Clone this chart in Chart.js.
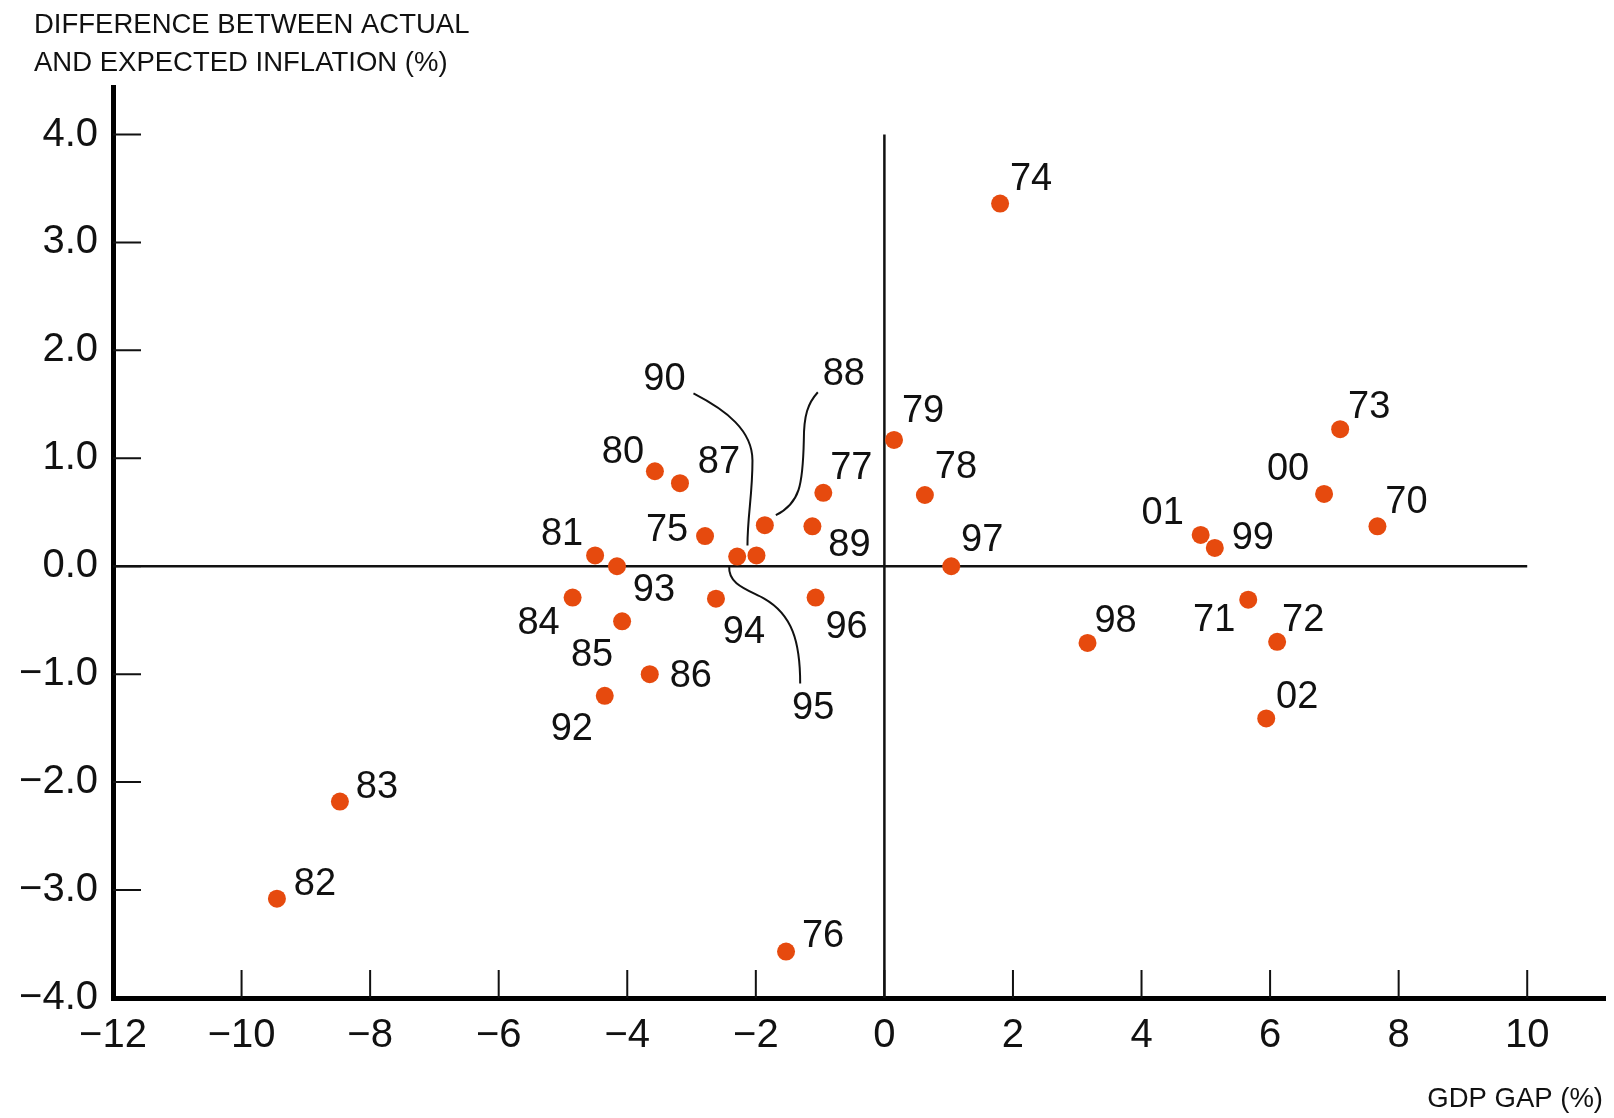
<!DOCTYPE html>
<html>
<head>
<meta charset="utf-8">
<style>
  html, body { margin: 0; padding: 0; background: #ffffff; }
  #wrap { width: 1614px; height: 1118px; }
</style>
<script src="https://cdn.jsdelivr.net/npm/chart.js@4/dist/chart.umd.min.js"></script>
</head>
<body>
<div id="wrap"><canvas id="c" width="1614" height="1118"></canvas></div>
<script>
// ---- data ----
const years = ["70","71","72","73","74","75","76","77","78","79","80","81","82","83","84","85","86","87","88","89","90","92","93","94","95","96","97","98","99","00","01","02"];
const gdpGap = [7.67, 5.66, 6.11, 7.09, 1.80, -2.79, -1.53, -0.95, 0.63, 0.15, -3.57, -4.50, -9.45, -8.47, -4.85, -4.08, -3.65, -3.18, -1.86, -1.12, -1.99, -4.35, -4.16, -2.62, -2.29, -1.07, 1.04, 3.16, 5.14, 6.84, 4.92, 5.94];
const inflationGap = [0.37, -0.31, -0.70, 1.27, 3.36, 0.28, -3.57, 0.68, 0.66, 1.17, 0.88, 0.10, -3.08, -2.18, -0.29, -0.51, -1.00, 0.77, 0.38, 0.37, 0.10, -1.20, 0.00, -0.30, 0.09, -0.29, 0.00, -0.71, 0.17, 0.67, 0.29, -1.41];
const xTickValues = [-12, -10, -8, -6, -4, -2, 0, 2, 4, 6, 8, 10];
const yTickValues = [-4, -3, -2, -1, 0, 1, 2, 3, 4];
const yTitleLines = ["DIFFERENCE BETWEEN ACTUAL", "AND EXPECTED INFLATION (%)"];
const xTitle = "GDP GAP (%)";

// ---- styling (label placement relative to each dot, in px) ----
const labelOffset = {
  "70":[29,-26], "71":[-34,19], "72":[26,-23], "73":[29,-24], "74":[31,-26],
  "75":[-38,-8], "76":[37,-17], "77":[28,-26], "78":[31,-29], "79":[29,-30],
  "80":[-32,-21], "81":[-33,-23], "82":[38,-16], "83":[37,-16], "84":[-34,24],
  "85":[-30,32], "86":[41,0], "87":[39,-23], "88":[79,-153], "89":[37,17],
  "90":[-92,-178], "92":[-33,32], "93":[37,22], "94":[28,32], "95":[76,150],
  "96":[31,28], "97":[31,-28], "98":[28,-23], "99":[38,-11], "00":[-36,-26],
  "01":[-38,-23], "02":[31,-23]
};
// leader curves (relative px): [start, c1, c2, end, c1, c2, end]
const leaders = {
  "90": [[-63,-162],[-30,-145],[-4,-125],[-4,-95],[-4,-60],[-9,-40],[-9,-10]],
  "88": [[53,-133],[43,-122],[39,-110],[39,-85],[38,-40],[35,-22],[11,-10]],
  "95": [[-8,10],[-9,28],[10,33],[27,42],[55,58],[63,85],[63,127]]
};

const FONT = "'Liberation Sans', Arial, Helvetica, sans-serif";
const INK = '#111111';
const DOT = '#E64A0E';
const fmt = v => v < 0 ? '\u2212' + Math.abs(v) : String(v);

const overlay = {
  id: 'overlay',
  beforeDatasetsDraw(chart) {
    const ctx = chart.ctx;
    const xs = chart.scales.x, ys = chart.scales.y;
    ctx.save();
    ctx.strokeStyle = INK;
    // zero lines
    ctx.lineWidth = 2.5;
    ctx.beginPath();
    ctx.moveTo(xs.getPixelForValue(xTickValues[0]), ys.getPixelForValue(0));
    ctx.lineTo(xs.getPixelForValue(xTickValues[xTickValues.length - 1]), ys.getPixelForValue(0));
    ctx.moveTo(xs.getPixelForValue(0), ys.getPixelForValue(yTickValues[yTickValues.length - 1]));
    ctx.lineTo(xs.getPixelForValue(0), ys.getPixelForValue(yTickValues[0]));
    ctx.stroke();
    // inward tick marks
    ctx.lineWidth = 2;
    ctx.beginPath();
    const yb = ys.getPixelForValue(yTickValues[0]);
    xTickValues.slice(1).forEach(v => {
      const px = xs.getPixelForValue(v);
      ctx.moveTo(px, yb); ctx.lineTo(px, yb - 28);
    });
    const xl = xs.getPixelForValue(xTickValues[0]);
    yTickValues.slice(1).forEach(v => {
      const py = ys.getPixelForValue(v);
      ctx.moveTo(xl, py); ctx.lineTo(xl + 28, py);
    });
    ctx.stroke();
    ctx.restore();
  },
  afterDraw(chart) {
    const ctx = chart.ctx;
    const xs = chart.scales.x, ys = chart.scales.y;
    ctx.save();
    // point labels
    ctx.fillStyle = INK;
    ctx.font = '38px ' + FONT;
    ctx.textAlign = 'center';
    ctx.textBaseline = 'middle';
    years.forEach((yr, i) => {
      const px = xs.getPixelForValue(gdpGap[i]);
      const py = ys.getPixelForValue(inflationGap[i]);
      const o = labelOffset[yr] || [30, -25];
      ctx.fillText(yr, px + o[0], py + o[1] + 2);
      const L = leaders[yr];
      if (L) {
        ctx.strokeStyle = INK;
        ctx.lineWidth = 2;
        ctx.beginPath();
        ctx.moveTo(px + L[0][0], py + L[0][1]);
        ctx.bezierCurveTo(px + L[1][0], py + L[1][1], px + L[2][0], py + L[2][1], px + L[3][0], py + L[3][1]);
        ctx.bezierCurveTo(px + L[4][0], py + L[4][1], px + L[5][0], py + L[5][1], px + L[6][0], py + L[6][1]);
        ctx.stroke();
      }
    });
    // axis titles
    ctx.font = '27.5px ' + FONT;
    ctx.textAlign = 'left';
    ctx.textBaseline = 'alphabetic';
    ctx.fillText(yTitleLines[0], 34, 33);
    ctx.fillText(yTitleLines[1], 34, 71);
    ctx.textAlign = 'right';
    ctx.fillText(xTitle, 1603, 1107);
    ctx.restore();
  }
};

new Chart(document.getElementById('c'), {
  type: 'scatter',
  data: {
    datasets: [{
      data: years.map((y, i) => ({ x: gdpGap[i], y: inflationGap[i] })),
      pointRadius: 9,
      pointHoverRadius: 9,
      pointBackgroundColor: DOT,
      pointBorderWidth: 0,
      borderWidth: 0,
      clip: false
    }]
  },
  options: {
    responsive: false,
    animation: false,
    events: [],
    layout: { padding: { top: 87, right: 8, left: 0, bottom: 0 } },
    plugins: { legend: { display: false }, tooltip: { enabled: false } },
    scales: {
      x: {
        type: 'linear',
        min: -12,
        max: 11.21,
        afterBuildTicks: s => { s.ticks = xTickValues.map(v => ({ value: v })); },
        afterFit: s => { s.height = 120; },
        grid: { display: true, drawOnChartArea: false, drawTicks: false },
        border: { display: true, width: 5, color: '#000' },
        ticks: {
          autoSkip: false, maxRotation: 0, padding: 14, color: INK,
          font: { family: FONT, size: 40 },
          callback: v => fmt(v)
        }
      },
      y: {
        type: 'linear',
        min: -4,
        max: 4.44,
        afterBuildTicks: s => { s.ticks = yTickValues.map(v => ({ value: v })); },
        afterFit: s => { s.width = 113; },
        grid: { display: true, drawOnChartArea: false, drawTicks: false },
        border: { display: true, width: 5, color: '#000' },
        ticks: {
          autoSkip: false, padding: 15, color: INK,
          font: { family: FONT, size: 40 },
          callback: v => (v < 0 ? '\u2212' : '') + Math.abs(v).toFixed(1)
        }
      }
    }
  },
  plugins: [overlay]
});
</script>
</body>
</html>
